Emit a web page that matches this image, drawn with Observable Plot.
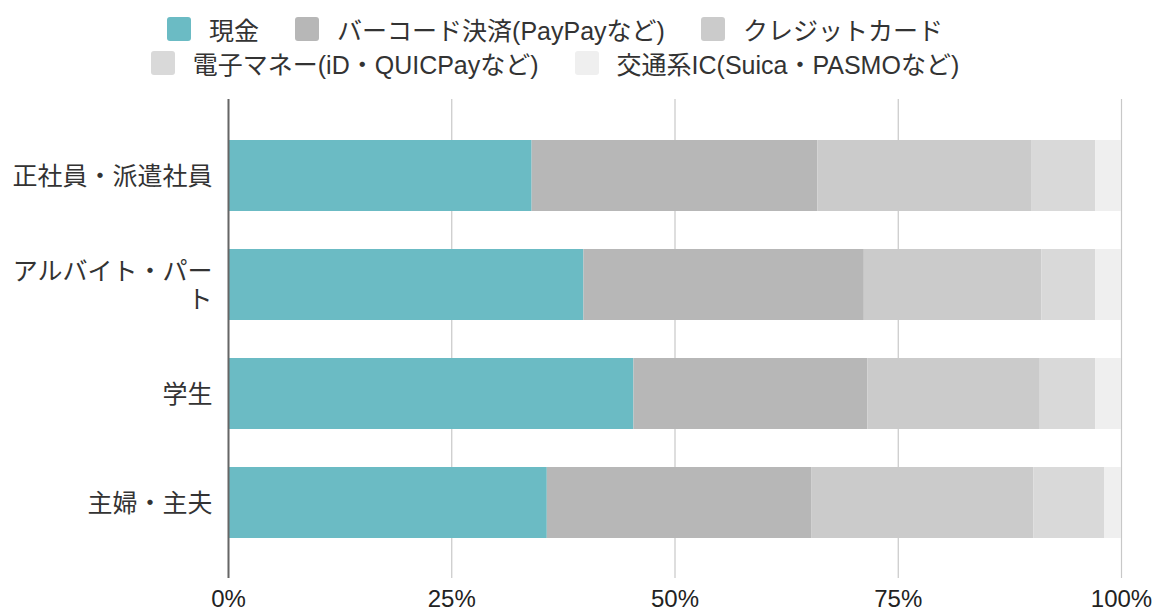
<!DOCTYPE html>
<html>
<head>
<meta charset="utf-8">
<script src="https://cdn.jsdelivr.net/npm/d3@7"></script>
<script src="https://cdn.jsdelivr.net/npm/@observablehq/plot@0.6"></script>
<style>
  html, body { margin: 0; padding: 0; background: #fff; }
  body { width: 1156px; height: 614px; overflow: hidden; font-family: "Liberation Sans", "Noto Sans CJK JP", sans-serif; color: #333; }
  #legend { height: 80px; width: 1110px; box-sizing: border-box; padding-top: 12px; }
  .row { display: flex; justify-content: center; align-items: center; height: 34px; }
  .item { display: flex; align-items: center; margin: 0 18px; font-size: 25px; white-space: nowrap; }
  .sw { width: 24px; height: 24px; border-radius: 3px; margin-right: 18px; }
  #chart svg { display: block; }
</style>
</head>
<body>
<div id="legend"></div>
<div id="chart"></div>
<script>
const categories = ["正社員・派遣社員", "アルバイト・パート", "学生", "主婦・主夫"];
const series = ["現金", "バーコード決済(PayPayなど)", "クレジットカード", "電子マネー(iD・QUICPayなど)", "交通系IC(Suica・PASMOなど)"];
const colors = ["#6bbbc4", "#b7b7b7", "#cbcbcb", "#d9d9d9", "#efefef"];
const cash    = [34.0, 39.8, 45.4, 35.7];
const barcode = [32.0, 31.4, 26.2, 29.6];
const credit  = [24.0, 19.9, 19.3, 24.9];
const emoney  = [7.1, 6.0, 6.2, 7.9];
const ic      = [2.9, 2.9, 2.9, 1.9];
const xTicks = [0, 25, 50, 75, 100];

const valuesBySeries = [cash, barcode, credit, emoney, ic];
const data = [];
series.forEach((s, si) => categories.forEach((c, ci) => data.push({category: c, series: s, si, value: valuesBySeries[si][ci]})));

// legend
const legend = document.getElementById("legend");
[[0, 3], [3, 5]].forEach(([a, b]) => {
  const row = document.createElement("div");
  row.className = "row";
  for (let i = a; i < b; i++) {
    const it = document.createElement("div");
    it.className = "item";
    const sw = document.createElement("div");
    sw.className = "sw";
    sw.style.background = colors[i];
    const t = document.createElement("span");
    t.textContent = series[i];
    it.append(sw, t);
    row.append(it);
  }
  legend.append(row);
});

const chart = Plot.plot({
  width: 1156,
  height: 534,
  marginTop: 19,
  marginBottom: 36,
  marginLeft: 228,
  marginRight: 35,
  style: {fontFamily: "'Liberation Sans', 'Noto Sans CJK JP', sans-serif", color: "#333", background: "#fff"},
  x: {domain: [0, 100], ticks: xTicks},
  y: {domain: categories, paddingInner: 0.353, paddingOuter: 0.36},
  color: {domain: series, range: colors},
  marks: [
    Plot.gridX(xTicks, {stroke: "#c8c8c8", strokeOpacity: 1, strokeWidth: 1.2}),
    Plot.barX(data, Plot.stackX({x: "value", y: "category", fill: "series", order: "si", inset: 0})),
    Plot.ruleX([0], {stroke: "#666", strokeWidth: 2}),
    Plot.axisX(xTicks, {tickSize: 0, tickPadding: 11, fontSize: 24, tickFormat: d => d + "%", label: null, fill: "#222"}),
    Plot.axisY({tickSize: 0, tickPadding: 16, fontSize: 25, lineHeight: 1.1, label: null, fill: "#333",
      tickFormat: d => d === "アルバイト・パート" ? "アルバイト・パー\nト" : d})
  ]
});
document.getElementById("chart").append(chart);
</script>
</body>
</html>
